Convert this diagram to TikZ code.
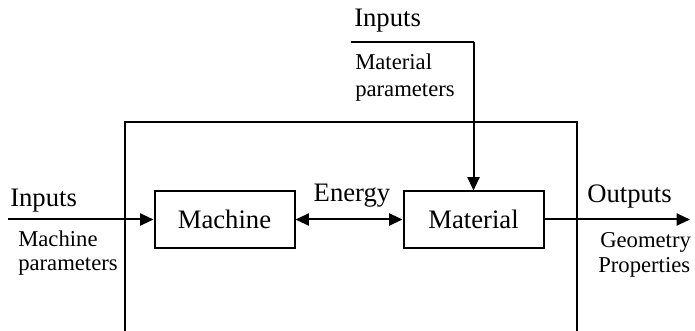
\documentclass[tikz,border=0pt]{standalone}
\usepackage{fontspec}
\setmainfont{Liberation Serif}
\usetikzlibrary{arrows.meta}
\begin{document}
\begin{tikzpicture}[x=0.75pt,y=-0.75pt,
  line/.style={line width=1.5pt},
  arr/.style={line, -{Triangle[length=10pt,width=9pt]}},
  blk/.style={draw, line width=1.5pt, minimum width=105pt, minimum height=42pt, font=\fontsize{20}{24}\selectfont},
  big/.style={font=\fontsize{20}{24}\selectfont, inner sep=0pt},
  small/.style={font=\fontsize{17}{18}\selectfont, inner sep=0pt, align=left}]
\useasboundingbox (0,0) rectangle (695,331);
% outer open frame
\draw[line] (125,331) -- (125,122) -- (577,122) -- (577,331);
% blocks
\node[blk] (mach) at (224.5,219.5) {Machine};
\node[blk] (mat) at (473.5,219.5) {Material};
% coordinates
\coordinate (inL) at (8,219.5);
\coordinate (outR) at (690,219.5);
\coordinate (topL) at (351,42);
\coordinate (topC) at (473.5,42);
% connectors
\draw[arr] (inL) -- (mach.west);
\draw[line, {Triangle[length=10pt,width=9pt]}-{Triangle[length=10pt,width=9pt]}] (mach.east) -- (mat.west);
\draw[arr] (mat.east) -- (outR);
\draw[line] (topL) -- (topC);
\draw[arr] (topC) -- (mat.north);
% labels
\node[big, anchor=base west] (in1) at (10,207) {Inputs};
\node[small, anchor=base west] (mp1) at (18,246) {Machine};
\node[small, anchor=base west] (mp2) at (18,270) {parameters};
\node[big, anchor=base] (en) at (352,202) {Energy};
\node[big, anchor=base west] (in2) at (354,27) {Inputs};
\node[small, anchor=base west] (ma1) at (355,70) {Material};
\node[small, anchor=base west] (ma2) at (355,97) {parameters};
\node[big, anchor=base west] (out) at (587,203) {Outputs};
\node[small, anchor=base west] (g1) at (600,247) {Geometry};
\node[small, anchor=base west] (g2) at (598,272) {Properties};
\end{tikzpicture}
\end{document}
